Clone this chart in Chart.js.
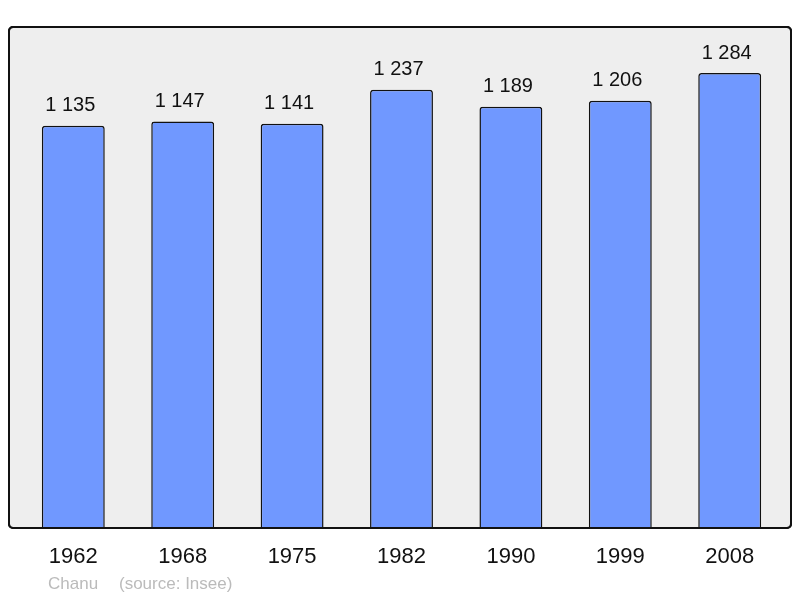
<!DOCTYPE html>
<html lang="fr">
<head>
    <meta charset="UTF-8">
    <script src="https://cdn.jsdelivr.net/npm/chart.js@4.4.0/dist/chart.umd.min.js"></script>
    <title>Chanu</title>
    <style>
        html, body { margin: 0; padding: 0; background: #ffffff; }
        #wrap { width: 800px; height: 598px; }
    </style>
</head>
<body>
    <div id="wrap"><canvas id="chart1" width="800" height="598"></canvas></div>
    <script>
        const years = ['1962', '1968', '1975', '1982', '1990', '1999', '2008'];
        const population = [1135, 1147, 1141, 1237, 1189, 1206, 1284];
        const sourceText = ['Chanu', '(source: Insee)'];

        const font = '"Liberation Sans", Arial, sans-serif';

        // grey box behind the bars
        const frame = {
            id: 'frame',
            beforeDraw(chart) {
                const c = chart.ctx;
                c.save();
                c.fillStyle = '#eeeeee';
                c.strokeStyle = '#111111';
                c.lineWidth = 2;
                c.beginPath();
                c.roundRect(9, 27, 782, 501, 4);
                c.fill();
                c.stroke();
                c.restore();
            },
            afterDatasetsDraw(chart) {
                const c = chart.ctx;
                const meta = chart.getDatasetMeta(0);
                c.save();
                c.textAlign = 'center';
                c.textBaseline = 'middle';
                c.fillStyle = '#111111';
                meta.data.forEach((bar, i) => {
                    c.font = '20px ' + font;
                    c.fillText(population[i].toLocaleString('fr-FR').replace(/\s/g, ' '), bar.x - 3, bar.y - 20);
                    c.font = '22px ' + font;
                    c.fillText(years[i], bar.x, 557);
                });
                // redraw the frame edge over the bars
                c.strokeStyle = '#111111';
                c.lineWidth = 2;
                c.beginPath();
                c.roundRect(9, 27, 782, 501, 4);
                c.stroke();
                c.font = '17px ' + font;
                c.fillStyle = '#bbbbbb';
                c.textAlign = 'left';
                c.fillText(sourceText[0], 48, 584);
                c.fillText(sourceText[1], 119, 584);
                c.restore();
            }
        };

        const ctx1 = document.getElementById('chart1').getContext('2d');
        const myChart1 = new Chart(ctx1, {
            type: 'bar',
            data: {
                labels: years,
                datasets: [{
                    data: population,
                    backgroundColor: '#7098ff',
                    borderColor: '#111111',
                    borderWidth: 1.5,
                    borderRadius: 3,
                    borderSkipped: 'bottom',
                    barPercentage: 0.575,
                    categoryPercentage: 1
                }]
            },
            options: {
                responsive: false,
                animation: false,
                layout: { padding: { left: 18.6, right: 15.6, top: 27, bottom: 70 } },
                plugins: { legend: { display: false }, tooltip: { enabled: false } },
                scales: {
                    x: { display: false },
                    y: { display: false, min: 0, max: 1414 }
                }
            },
            plugins: [frame]
        });
    </script>
</body>
</html>
